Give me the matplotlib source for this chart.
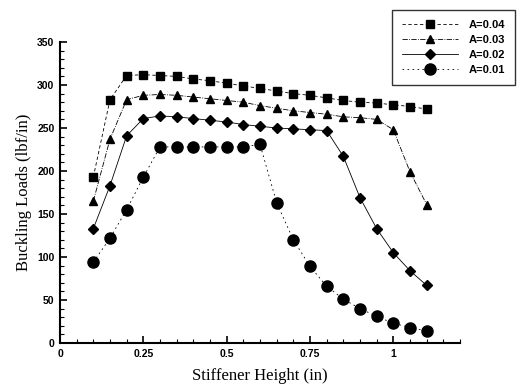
import numpy as np
import matplotlib
matplotlib.use("Agg")
from matplotlib import pyplot as plt
from matplotlib.ticker import MultipleLocator, FixedLocator

height = [0.1, 0.15, 0.2, 0.25, 0.3, 0.35, 0.4, 0.45, 0.5, 0.55, 0.6,
          0.65, 0.7, 0.75, 0.8, 0.85, 0.9, 0.95, 1.0, 1.05, 1.1]

a004 = [193, 283, 311, 312, 311, 310, 307, 305, 302, 299, 296,
        293, 290, 288, 285, 282, 280, 279, 277, 275, 272]
a003 = [165, 237, 283, 288, 289, 288, 286, 284, 282, 280, 276,
        273, 270, 268, 266, 263, 262, 260, 248, 199, 161]
a002 = [133, 183, 241, 261, 264, 263, 261, 259, 257, 254, 252,
        250, 249, 248, 247, 217, 169, 133, 105, 84, 67]
a001 = [94, 122, 155, 193, 228, 228, 228, 228, 228, 228, 231,
        163, 120, 89, 66, 51, 40, 31, 23, 18, 14]

labels = ["A=0.04", "A=0.03", "A=0.02", "A=0.01"]

fig = plt.figure(figsize=(5.3, 3.9), dpi=100)
ax = fig.add_axes([60 / 530, 1 - 343 / 390, 400 / 530, 301 / 390])

ax.plot(height, a004, color="black", lw=0.6, ls=(0, (4, 3)),
        marker="s", ms=5.5, label=labels[0])
ax.plot(height, a003, color="black", lw=0.6, ls="-.",
        marker="^", ms=6, label=labels[1])
ax.plot(height, a002, color="black", lw=0.6, ls="-",
        marker="D", ms=5.5, label=labels[2])
ax.plot(height, a001, color="black", lw=0.6, ls=(0, (2, 4)),
        marker="o", ms=8, label=labels[3])

ax.set_xlim(0, 1.2)
ax.set_ylim(0, 350)
ax.xaxis.set_major_locator(FixedLocator([0, 0.25, 0.5, 0.75, 1]))
ax.set_xticklabels(["0", "0.25", "0.5", "0.75", "1"])
ax.xaxis.set_minor_locator(MultipleLocator(0.05))
ax.yaxis.set_major_locator(MultipleLocator(50))
ax.yaxis.set_minor_locator(MultipleLocator(10))
ax.tick_params(which="both", direction="in", top=False, right=False)
ax.tick_params(which="major", length=5, width=1.2, pad=4)
ax.tick_params(which="minor", length=3, width=0.8)
for lab in ax.get_xticklabels() + ax.get_yticklabels():
    lab.set_family("Liberation Sans")
    lab.set_fontsize(7.5)
    lab.set_fontweight("bold")

for s in ["top", "right"]:
    ax.spines[s].set_visible(False)
ax.spines["left"].set_linewidth(1.5)
ax.spines["bottom"].set_linewidth(1.5)

ax.set_xlabel("Stiffener Height (in)", family="Liberation Serif", fontsize=12,
              labelpad=7)
ax.set_ylabel("Buckling Loads (lbf/in)", family="Liberation Serif", fontsize=12)

leg = ax.legend(loc="upper right", bbox_to_anchor=(521 / 530, 1 - 4 / 390),
                bbox_transform=fig.transFigure, frameon=True, fancybox=False,
                edgecolor="black", prop={"family": "Liberation Sans",
                                         "weight": "bold", "size": 8},
                handlelength=5, borderpad=0.9, labelspacing=0.45,
                handletextpad=1.0)
leg.get_frame().set_linewidth(1.0)

fig.savefig("out.png", dpi=100)
